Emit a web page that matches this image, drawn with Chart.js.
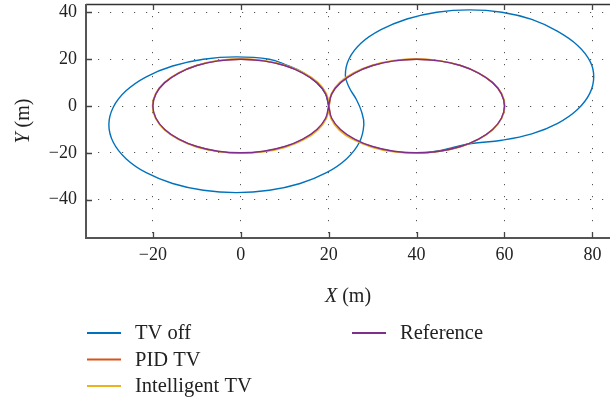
<!DOCTYPE html>
<html>
<head>
<meta charset="utf-8">
<script src="https://cdn.jsdelivr.net/npm/chart.js@4.4.1/dist/chart.umd.min.js"></script>
<style>
  body { margin: 0; background: #fff; }
  #wrap { width: 610px; height: 402px; }
</style>
</head>
<body>
<div id="wrap"><canvas id="traj" width="610" height="402"></canvas></div>
<script>
// axis ticks
var xTicks = [-20, 0, 20, 40, 60, 80];
var yTicks = [-40, -20, 0, 20, 40];

// series names, in legend order
var seriesNames = ['TV off', 'PID TV', 'Intelligent TV', 'Reference'];

// trajectories as [X, Y] in metres
var tvOff = [
    [20, 0], [19.3, 5.2], [17.3, 10], [14.2, 14.3], [10.3, 17.6], [6.5, 20], [-1, 21],
    [-8.5, 20], [-15.5, 17.1], [-21.5, 12.5], [-26.1, 6.5], [-29, -0.5], [-30, -8],
    [-29, -15.5], [-26.1, -22.5], [-21.5, -28.5], [-15.5, -33.1], [-8.5, -36], [-1, -37],
    [6.5, -36], [13.5, -33.1], [19.5, -28.5], [24.1, -22.5], [27, -15.5], [28, -8],
    [27.5, -2.5], [26.3, 2.8], [24.7, 7.8], [23.8, 13], [24.6, 20], [27.4, 26.9],
    [31.9, 32.6], [37.8, 37.2], [44.6, 40.1], [52, 41.1], [59.4, 40.1], [66.2, 37],
    [72, 32], [76.7, 25.8], [79.5, 19], [80.3, 12.4], [79.4, 5.4], [76.6, -1.5],
    [72.1, -7.4], [66.2, -11.9], [59.4, -14.6], [52.5, -16], [48.5, -17.6], [45.5, -19],
    [42.5, -19.8], [40, -20]
];

var pidTv = [
    [20.1, 0], [19.4, 5.2], [17.4, 10], [14.2, 14.1], [10, 17.3], [5.2, 19.3], [0, 20],
    [-5.2, 19.3], [-10, 17.3], [-14.1, 14.1], [-17.3, 10], [-19.3, 5.2], [-20, 0],
    [-19.3, -5.2], [-17.3, -10], [-14.1, -14.1], [-10, -17.3], [-5.2, -19.4], [0, -20.1],
    [5.2, -19.4], [10.1, -17.4], [14.2, -14.2], [17.4, -10.1], [19.4, -5.3], [20.1, 0],
    [20.7, 5.2], [22.7, 10], [25.9, 14.1], [30, 17.3], [34.8, 19.3], [40, 20],
    [45.2, 19.3], [50, 17.3], [54.1, 14.1], [57.3, 10], [59.3, 5.2], [60, 0],
    [59.3, -5.2], [57.3, -10], [54.1, -14.1], [50, -17.3], [45.2, -19.3], [40, -20],
    [34.8, -19.4], [29.9, -17.4], [25.8, -14.2], [22.6, -10.1], [20.6, -5.2], [20.1, 0]
];

var intelligentTv = [
    [20.1, 0], [19.5, 5.3], [17.6, 10.1], [14.3, 14.3], [10.1, 17.5], [5.2, 19.5], [0, 20.2],
    [-5.2, 19.5], [-10.1, 17.4], [-14.2, 14.2], [-17.4, 10], [-19.4, 5.2], [-20.1, 0],
    [-19.4, -5.2], [-17.4, -10.1], [-14.2, -14.3], [-10.1, -17.5], [-5.2, -19.5], [0, -20.2],
    [5.3, -19.6], [10.2, -17.6], [14.4, -14.4], [17.6, -10.2], [19.5, -5.3], [20.1, 0],
    [20.6, 5.3], [22.5, 10.2], [25.7, 14.3], [29.9, 17.5], [34.8, 19.5], [40, 20.2],
    [45.2, 19.4], [50, 17.4], [54.1, 14.1], [57.3, 10], [59.4, 5.2], [60.1, 0],
    [59.4, -5.2], [57.4, -10], [54.2, -14.2], [50.1, -17.4], [45.2, -19.4], [40, -20.2],
    [34.7, -19.6], [29.8, -17.6], [25.6, -14.4], [22.4, -10.3], [20.5, -5.3], [20.1, 0]
];

var reference = [
    [20, 0], [19.3, 5.2], [17.3, 10], [14.1, 14.1], [10, 17.3], [5.2, 19.3], [0, 20],
    [-5.2, 19.3], [-10, 17.3], [-14.1, 14.1], [-17.3, 10], [-19.3, 5.2], [-20, 0],
    [-19.3, -5.2], [-17.3, -10], [-14.1, -14.1], [-10, -17.3], [-5.2, -19.3], [0, -20],
    [5.2, -19.3], [10, -17.3], [14.1, -14.1], [17.3, -10], [19.3, -5.2], [20, 0],
    [20.7, 5.2], [22.7, 10], [25.9, 14.1], [30, 17.3], [34.8, 19.3], [40, 20],
    [45.2, 19.3], [50, 17.3], [54.1, 14.1], [57.3, 10], [59.3, 5.2], [60, 0],
    [59.3, -5.2], [57.3, -10], [54.1, -14.1], [50, -17.3], [45.2, -19.3], [40, -20],
    [34.8, -19.3], [30, -17.3], [25.9, -14.1], [22.7, -10], [20.7, -5.2], [20, 0]
];

var colors = ['#0072BD', '#D95319', '#EDB120', '#7E2F8E'];
var serif = '"Liberation Serif", "Times New Roman", serif';

function toPoints(arr) {
    return arr.map(function(p) { return { x: p[0], y: p[1] }; });
}

function line(idx, arr, order) {
    return {
        label: seriesNames[idx],
        data: toPoints(arr),
        showLine: true,
        borderColor: colors[idx],
        backgroundColor: colors[idx],
        borderWidth: 1.4,
        pointRadius: 0,
        pointHoverRadius: 0,
        tension: 0.4,
        fill: false,
        order: order
    };
}

function minusLabel(v) {
    return v < 0 ? '\u2212' + Math.abs(v) : String(v);
}

// frame, inward ticks, axis titles and a two-column legend
var decorations = {
    id: 'decorations',
    afterDraw: function(chart) {
        var ctx = chart.ctx;
        var a = chart.chartArea;
        var sx = chart.scales.x, sy = chart.scales.y;
        ctx.save();

        ctx.strokeStyle = '#333';
        ctx.lineWidth = 1.3;
        ctx.beginPath();
        ctx.moveTo(a.left, a.top + 0.5);
        ctx.lineTo(a.right, a.top + 0.5);
        ctx.stroke();

        ctx.strokeStyle = '#555';
        ctx.lineWidth = 2;
        ctx.beginPath();
        ctx.moveTo(a.left, a.top);
        ctx.lineTo(a.left, a.bottom);
        ctx.lineTo(a.right, a.bottom);
        ctx.stroke();

        ctx.lineWidth = 1.3;
        ctx.strokeStyle = '#444';
        ctx.beginPath();
        xTicks.forEach(function(v) {
            var px = Math.round(sx.getPixelForValue(v)) + 0.5;
            ctx.moveTo(px, a.bottom);
            ctx.lineTo(px, a.bottom - 6);
            ctx.moveTo(px, a.top);
            ctx.lineTo(px, a.top + 6);
        });
        yTicks.forEach(function(v) {
            var py = Math.round(sy.getPixelForValue(v)) + 0.5;
            ctx.moveTo(a.left, py);
            ctx.lineTo(a.left + 6, py);
        });
        ctx.stroke();

        // axis titles
        ctx.fillStyle = '#222';
        ctx.textBaseline = 'alphabetic';
        ctx.textAlign = 'left';
        var it = 'italic 20px ' + serif, up = '20px ' + serif;
        ctx.font = it;
        var wX = ctx.measureText('X').width;
        ctx.font = up;
        var wRest = ctx.measureText(' (m)').width;
        var cx = (a.left + a.right) / 2;
        var x0 = cx - (wX + wRest) / 2;
        ctx.font = it;
        ctx.fillText('X', x0, 302);
        ctx.font = up;
        ctx.fillText(' (m)', x0 + wX, 302);

        ctx.save();
        ctx.translate(29, (a.top + a.bottom) / 2);
        ctx.rotate(-Math.PI / 2);
        ctx.font = it;
        var wY = ctx.measureText('Y').width;
        var y0 = -(wY + wRest) / 2;
        ctx.fillText('Y', y0, 0);
        ctx.font = up;
        ctx.fillText(' (m)', y0 + wY, 0);
        ctx.restore();

        // legend, filled column by column
        var cols = [87, 352], rows = [339, 365.5, 392];
        ctx.font = '20.5px ' + serif;
        seriesNames.forEach(function(name, i) {
            var c = Math.floor(i / 3), r = i % 3;
            var lx = cols[c], by = rows[r];
            ctx.strokeStyle = colors[i];
            ctx.lineWidth = 2;
            ctx.beginPath();
            ctx.moveTo(lx, by - 6);
            ctx.lineTo(lx + 34, by - 6);
            ctx.stroke();
            ctx.fillStyle = '#222';
            ctx.fillText(name, lx + 48, by);
        });
        ctx.restore();
    }
};

var tickFont = { family: serif, size: 18 };

new Chart(document.getElementById('traj'), {
    type: 'scatter',
    data: {
        datasets: [
            line(0, tvOff, 3),
            line(1, pidTv, 2),
            line(2, intelligentTv, 1),
            line(3, reference, 0)
        ]
    },
    options: {
        responsive: false,
        animation: false,
        devicePixelRatio: 1,
        layout: { padding: { top: 4, right: 0, left: 0, bottom: 0 } },
        plugins: {
            legend: { display: false },
            tooltip: { enabled: false }
        },
        scales: {
            x: {
                type: 'linear',
                min: -35.2,
                max: 84,
                afterBuildTicks: function(scale) {
                    scale.ticks = xTicks.map(function(v) { return { value: v }; });
                },
                afterFit: function(scale) {
                    scale.height = 164;
                    scale.paddingLeft = 0;
                    scale.paddingRight = 0;
                },
                ticks: {
                    font: tickFont,
                    color: '#222',
                    padding: 6,
                    maxRotation: 0,
                    callback: minusLabel
                },
                grid: { color: '#555', lineWidth: 1, drawTicks: false },
                border: { display: false, dash: [1.2, 10.8] }
            },
            y: {
                type: 'linear',
                min: -56.4,
                max: 43.6,
                afterBuildTicks: function(scale) {
                    scale.ticks = yTicks.map(function(v) { return { value: v }; });
                },
                afterFit: function(scale) {
                    scale.width = 86;
                    scale.paddingTop = 0;
                    scale.paddingBottom = 0;
                },
                ticks: {
                    font: tickFont,
                    color: '#222',
                    padding: 9,
                    callback: minusLabel
                },
                grid: { color: '#555', lineWidth: 1, drawTicks: false },
                border: { display: false, dash: [1.2, 10.8] }
            }
        }
    },
    plugins: [decorations]
});
</script>
</body>
</html>
